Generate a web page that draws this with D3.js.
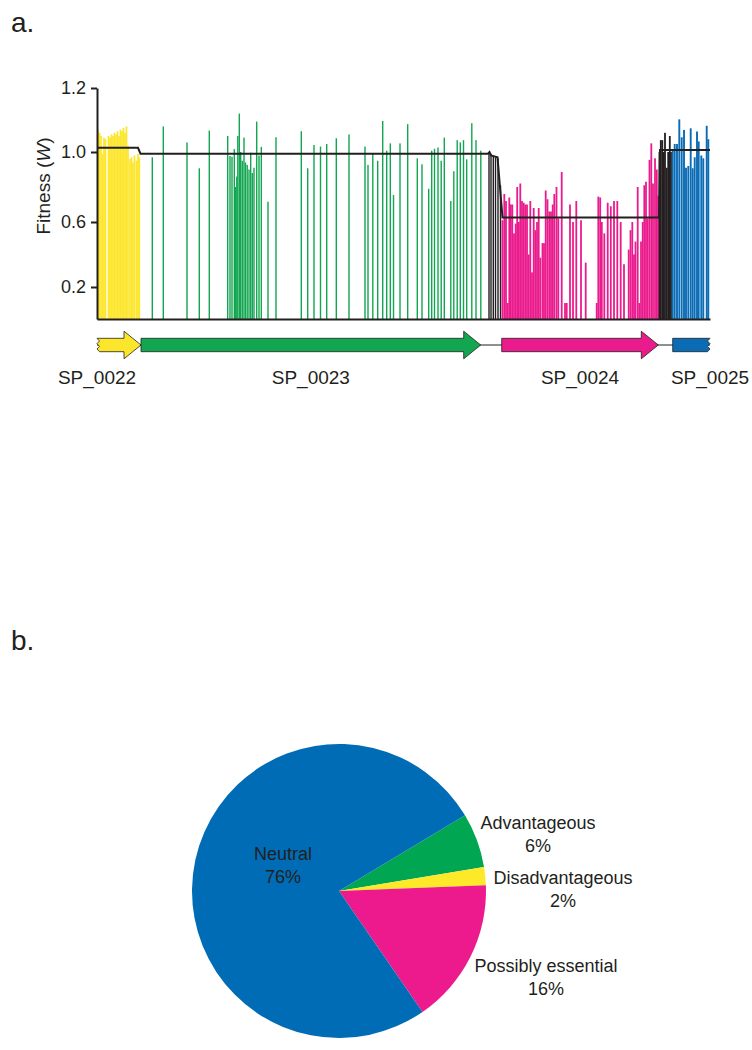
<!DOCTYPE html>
<html>
<head>
<meta charset="utf-8">
<script src="https://cdn.jsdelivr.net/npm/d3@7"></script>
<style>
body { margin: 0; background: #fff; }
text { font-family: "Liberation Sans", Arial, Helvetica, sans-serif; fill: #231f20; }
</style>
</head>
<body>
<div id="chart-area"></div>
<script>

// Insertion sites: [position (bp), fitness W]
var sp0022Sites = [[10,1.07],[25,1.06],[40,1.05],[55,0.99],[70,1.045],[85,1.04],[115,1.05],[130,1.045],
	[145,1.055],[160,1.05],[175,1.06],[190,1.055],[205,1.065],[220,1.05],[235,1.07],[250,1.065],
	[265,1.075],[280,1.06],[295,1.08],[310,1.02],[330,0.96],[345,0.97],[360,0.94],[375,0.98],
	[395,0.95],[410,0.99],[423,0.97]];

var sp0023Sites = [[553,0.97],[663,1.08],[900,1.03],[1023,0.907],[1123,1.067],[1307,1.05],[1330,0.977],
	[1350,0.973],[1373,1.009],[1385,0.80],[1398,0.86],[1408,1.05],[1423,1.12],[1437,1.0],[1453,0.95],
	[1470,1.045],[1485,0.94],[1502,0.926],[1520,0.90],[1537,0.996],[1553,0.88],[1570,0.91],[1597,1.095],
	[1620,0.98],[1643,1.016],[1710,0.716],[1790,1.046],[2043,1.065],[2107,0.907],[2170,1.022],
	[2235,1.017],[2297,1.025],[2393,1.043],[2520,1.055],[2680,1.017],[2710,0.926],[2758,0.99],
	[2807,0.95],[2857,1.097],[2897,1.004],[2933,1.027],[2965,0.754],[3030,1.027],[3107,1.087],
	[3203,0.964],[3250,0.93],[3317,0.79],[3347,1.004],[3375,1.01],[3410,1.014],[3442,0.95],
	[3473,1.045],[3538,0.72],[3568,0.89],[3602,1.037],[3633,1.03],[3665,1.037],[3697,0.958],
	[3748,1.09],[3790,1.037],[3838,1.004]];

var intergenic1Sites = [[3920,1.0],[3940,0.99],[3963,0.975],[3985,0.97],[4010,0.965],[4035,0.81]];

var sp0024Sites = [[4055,0.61],[4073,0.76],[4090,0.72],[4107,0.10],[4123,0.74],[4138,0.70],[4153,0.70],
	[4170,0.53],[4187,0.59],[4202,0.80],[4218,0.60],[4233,0.82],[4250,0.72],[4267,0.71],[4283,0.70],
	[4300,0.70],[4317,0.40],[4333,0.72],[4350,0.29],[4367,0.68],[4383,0.55],[4400,0.60],[4417,0.68],
	[4433,0.38],[4455,0.47],[4470,0.47],[4487,0.78],[4505,0.73],[4523,0.66],[4540,0.66],[4557,0.70],
	[4573,0.76],[4595,0.80],[4613,0.62],[4647,0.886],[4680,0.10],[4697,0.10],[4730,0.70],[4760,0.60],
	[4793,0.72],[4840,0.61],[4887,0.35],[4997,0.10],[5013,0.745],[5032,0.74],[5048,0.60],[5073,0.53],
	[5107,0.71],[5138,0.69],[5170,0.72],[5203,0.72],[5237,0.60],[5270,0.34],[5317,0.43],[5335,0.55],
	[5353,0.60],[5370,0.40],[5385,0.48],[5407,0.80],[5423,0.10],[5440,0.48],[5457,0.60],[5473,0.81],
	[5490,0.83],[5507,0.62],[5525,0.955],[5543,1.027],[5560,0.82],[5580,0.964],[5598,0.90],[5612,0.75]];

var intergenic2Sites = [[5625,1.0],[5638,1.037],[5653,1.037],[5668,1.0],[5680,1.06],[5697,0.91],
	[5712,1.0],[5728,1.05],[5740,1.0]];

var sp0025Sites = [[5757,1.006],[5777,1.025],[5800,1.025],[5823,1.102],[5847,1.046],[5870,1.069],
	[5890,0.91],[5913,0.92],[5937,1.074],[5957,0.907],[5977,0.97],[6000,1.064],[6017,1.033],
	[6043,0.98],[6063,0.964],[6097,1.082],[6113,1.04]];

// Mean fitness line: [position (bp), W]
var fitnessLine = [[0,1.013],[410,1.013],[435,0.99],[3910,0.99],[3925,1.0],[3940,0.98],[4005,0.97],
	[4055,0.626],[5620,0.626],[5630,1.006],[6130,1.006]];

// Genes
var geneNames = ["SP_0022", "SP_0023", "SP_0024", "SP_0025"];
var geneStart = [0, 440, 4047, 5757];
var geneEnd = [440, 3837, 5613, 6130];
var geneTruncated = ["left", "none", "none", "right"];

var yTicks = [0.2, 0.6, 1.0, 1.2];

// Pie
var pieNames = ["Advantageous", "Disadvantageous", "Possibly essential", "Neutral"];
var piePercent = [6, 2, 16, 76];

// Colours
var yellow = "#fce62c", green = "#12a650", pink = "#ea1b8c", blue = "#0a6cb5", dark = "#231f20";
var pieColors = ["#00a651", "#fde92a", "#ec1a8c", "#006cb6"];


// SVG drawing area
var svg = d3.select("#chart-area").append("svg")
	.attr("width", 752)
	.attr("height", 1050);

// Panel letters
svg.append("text").attr("x", 11).attr("y", 32).style("font-size", "28px").text("a.");
svg.append("text").attr("x", 11).attr("y", 650).style("font-size", "28px").text("b.");

// Scales
var x = d3.scaleLinear()
	.domain([0, 6130])
	.range([97, 710]);

var y = d3.scaleLinear()
	.domain([0, 0.2, 0.6, 1.0, 1.2])
	.range([319, 287, 222, 152, 88]);

// Bars
var groups = [
	{sites: sp0022Sites, color: yellow, w: 1.7},
	{sites: sp0023Sites, color: green, w: 1.4},
	{sites: intergenic1Sites, color: dark, w: 1.4},
	{sites: sp0024Sites, color: pink, w: 1.8},
	{sites: intergenic2Sites, color: dark, w: 1.8},
	{sites: sp0025Sites, color: blue, w: 1.9}
];

groups.forEach(function(g){
	svg.append("g").selectAll("rect")
		.data(g.sites)
		.enter().append("rect")
		.attr("x", function(d){ return x(d[0]) - g.w / 2; })
		.attr("width", g.w)
		.attr("y", function(d){ return y(d[1]); })
		.attr("height", function(d){ return y(0) - y(d[1]); })
		.attr("fill", g.color);
});

// Mean fitness line
var line = d3.line()
	.x(function(d){ return x(d[0]); })
	.y(function(d){ return y(d[1]); });

svg.append("path")
	.datum(fitnessLine)
	.attr("d", line)
	.attr("fill", "none")
	.attr("stroke", dark)
	.attr("stroke-width", 2);

// Axes
var yAxisGroup = svg.append("g")
	.attr("transform", "translate(" + x(0) + ",0)")
	.call(d3.axisLeft(y).tickValues(yTicks).tickFormat(d3.format(".1f")).tickSize(6).tickSizeOuter(0).tickPadding(5));

yAxisGroup.selectAll("path, line").attr("stroke", dark).attr("stroke-width", 2);
yAxisGroup.selectAll("text")
	.style("font-size", "18px")
	.style("font-family", "'Liberation Sans', Arial, sans-serif")
	.attr("fill", dark);

var xAxisGroup = svg.append("g")
	.attr("transform", "translate(0," + y(0) + ")")
	.call(d3.axisBottom(x).tickValues([]).tickSizeOuter(0));

xAxisGroup.select("path").attr("stroke", dark).attr("stroke-width", 2);

// Y axis title
var yTitle = svg.append("text")
	.attr("transform", "translate(50,186) rotate(-90)")
	.attr("text-anchor", "middle")
	.style("font-size", "19px");
yTitle.append("tspan").text("Fitness (");
yTitle.append("tspan").style("font-style", "italic").text("W");
yTitle.append("tspan").text(")");

// Gene track
var cy = 345, bh = 6.7, hh = 13.8, hl = 17;
var geneColors = [yellow, green, pink, blue];

// connecting line
svg.append("line")
	.attr("x1", x(geneStart[0])).attr("x2", x(geneEnd[3]))
	.attr("y1", cy).attr("y2", cy)
	.attr("stroke", dark).attr("stroke-width", 1);

function zigzag(xe, dir) {
	// jagged edge for truncated genes, top to bottom
	var pts = [], n = 5;
	for (var i = 0; i <= n; i++) {
		pts.push([xe + (i % 2 ? dir * 2.5 : 0), cy - bh + (2 * bh) * i / n]);
	}
	return pts;
}

geneNames.forEach(function(name, i){
	var x0 = x(geneStart[i]), x1 = x(geneEnd[i]);
	var pts;
	if (geneTruncated[i] == "right") {
		pts = [[x0, cy - bh]].concat(zigzag(x1, -1)).concat([[x0, cy + bh]]);
	} else {
		pts = [[x1 - hl, cy - bh], [x1 - hl, cy - hh], [x1, cy], [x1 - hl, cy + hh], [x1 - hl, cy + bh]];
		if (geneTruncated[i] == "left") {
			pts = pts.concat(zigzag(x0, 1).reverse());
		} else {
			pts = pts.concat([[x0, cy + bh], [x0, cy - bh]]);
		}
	}
	svg.append("path")
		.attr("d", "M" + pts.join("L") + "Z")
		.attr("fill", geneColors[i])
		.attr("stroke", dark)
		.attr("stroke-width", 0.8);

	var lx = geneTruncated[i] == "left" ? x0 : (geneTruncated[i] == "right" ? x1 : (x0 + x1) / 2);
	svg.append("text")
		.attr("x", lx)
		.attr("y", 384)
		.attr("text-anchor", "middle")
		.style("font-size", "19px")
		.text(name);
});

// Pie chart
var a0 = 59 * Math.PI / 180;
var pie = d3.pie().sort(null).startAngle(a0).endAngle(a0 + 2 * Math.PI);
var arc = d3.arc().innerRadius(0).outerRadius(147);

var pieGroup = svg.append("g")
	.attr("transform", "translate(339,891)");

pieGroup.selectAll("path")
	.data(pie(piePercent))
	.enter().append("path")
	.attr("d", arc)
	.attr("fill", function(d, i){ return pieColors[i]; });

// label anchors relative to the pie centre
var labelOffsets = [[199, -62], [224, -7], [207, 81], [-56, -31]];

pieNames.forEach(function(name, i){
	var t = pieGroup.append("text")
		.attr("text-anchor", "middle")
		.style("font-size", "18px");
	t.append("tspan").attr("x", labelOffsets[i][0]).attr("y", labelOffsets[i][1]).text(name);
	t.append("tspan").attr("x", labelOffsets[i][0]).attr("y", labelOffsets[i][1] + 23).text(piePercent[i] + "%");
});

</script>
</body>
</html>
